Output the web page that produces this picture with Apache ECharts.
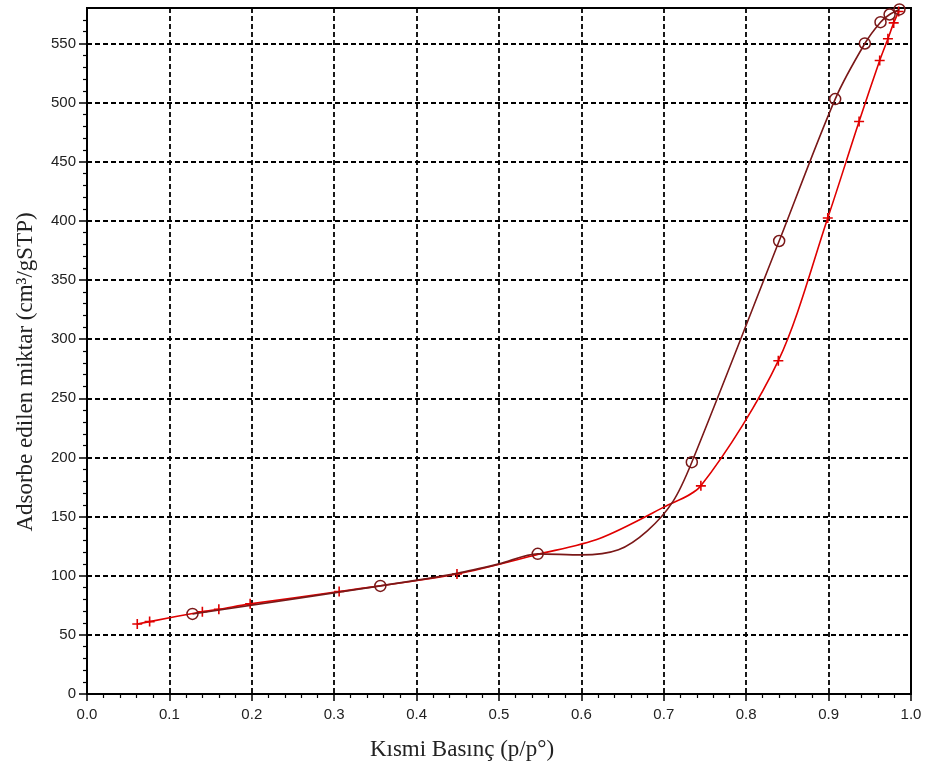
<!DOCTYPE html>
<html>
<head>
<meta charset="utf-8">
<script src="https://cdn.jsdelivr.net/npm/echarts@6/dist/echarts.min.js"></script>
<style>html,body{margin:0;padding:0;background:#fff}#c{width:930px;height:771px}</style>
</head>
<body>
<div id="c"></div>
<script>
// Adsorption branch (red "+" markers)
const adsX = [0.061, 0.076, 0.140, 0.160, 0.198, 0.306, 0.449, 0.745, 0.839, 0.899, 0.937, 0.962, 0.972, 0.979, 0.985];
const adsY = [59.2, 61.2, 69.6, 71.6, 76.2, 86.6, 101.5, 176, 281.8, 402.5, 484, 535.6, 554, 567.4, 577];
// Extra points of the red curve (no marker)
const adsTraceX = [0.547, 0.622, 0.700];
const adsTraceY = [118, 131.5, 158];

// Desorption branch (dark "o" markers)
const desX = [0.128, 0.356, 0.547, 0.734, 0.840, 0.908, 0.944, 0.963, 0.974, 0.986];
const desY = [67.7, 91.4, 118.5, 196, 383, 503, 550, 568, 574.5, 578.8];
// Extra points of the dark curve (no marker)
const desTraceX = [0.449, 0.500, 0.600, 0.645, 0.680, 0.711];
const desTraceY = [102, 110, 117.6, 122, 138, 162.7];

// Axis ticks
const yMajorTicks = [0, 50, 100, 150, 200, 250, 300, 350, 400, 450, 500, 550];
const yMinorTicks = [10,20,30,40,60,70,80,90,110,120,130,140,160,170,180,190,210,220,230,240,260,270,280,290,310,320,330,340,360,370,380,390,410,420,430,440,460,470,480,490,510,520,530,540,560,570];

const xName = 'Kısmi Basınç (p/p°)';
const yName = 'Adsorbe edilen miktar (cm³/gSTP)';

function build(mx, my, tx, ty) {
  const pts = mx.map((x, i) => ({ value: [x, my[i]] }))
    .concat(tx.map((x, i) => ({ value: [x, ty[i]], symbol: 'none' })));
  pts.sort((a, b) => a.value[0] - b.value[0]);
  return pts;
}

const RED = '#e00000';
const DARK = '#7a1818';
const plusPath = 'path://M0,4.2h10v1.6h-10z M4.2,0h1.6v10h-1.6z';
const dashStyle = { type: [5, 3], color: '#000', width: 1.8 };
const labelFont = { fontFamily: '"Liberation Sans", Arial, sans-serif', fontSize: 15, color: '#222' };

const chart = echarts.init(document.getElementById('c'), null, { renderer: 'canvas' });
chart.setOption({
  animation: false,
  backgroundColor: '#fff',
  grid: { left: 87, right: 19, top: 8, bottom: 77, show: true, borderColor: '#000', borderWidth: 2, containLabel: false },
  xAxis: [{
    type: 'value', min: 0, max: 1, interval: 0.1,
    axisLine: { show: true, onZero: false, lineStyle: { color: '#000', width: 2 } },
    axisTick: { show: true, length: 7, lineStyle: { color: '#000', width: 1.5 } },
    minorTick: { show: true, splitNumber: 5, length: 4, lineStyle: { color: '#000', width: 1.2 } },
    axisLabel: Object.assign({ margin: 13, formatter: v => v.toFixed(1) }, labelFont),
    splitLine: { show: true, lineStyle: dashStyle },
    minorSplitLine: { show: false }
  }],
  yAxis: [{
    type: 'value', min: 0, max: 580, interval: 50,
    axisLine: { show: true, onZero: false, lineStyle: { color: '#000', width: 2 } },
    axisTick: { show: true, length: 8, customValues: yMajorTicks, lineStyle: { color: '#000', width: 1.5 } },
    axisLabel: Object.assign({ margin: 11, customValues: yMajorTicks }, labelFont),
    splitLine: { show: true, lineStyle: dashStyle }
  }, {
    type: 'value', min: 0, max: 580, position: 'left', offset: 0,
    axisLine: { show: false },
    axisTick: { show: true, length: 4, customValues: yMinorTicks, lineStyle: { color: '#000', width: 1.2 } },
    axisLabel: { show: false },
    splitLine: { show: false }
  }],
  series: [{
    name: 'Adsorpsiyon', type: 'line', xAxisIndex: 0, yAxisIndex: 0,
    data: build(adsX, adsY, adsTraceX, adsTraceY),
    smooth: 0.3,
    symbol: plusPath, symbolSize: 10, showSymbol: true,
    lineStyle: { color: RED, width: 1.6 },
    itemStyle: { color: RED },
    z: 3
  }, {
    name: 'Desorpsiyon', type: 'line', xAxisIndex: 0, yAxisIndex: 0,
    data: build(desX, desY, desTraceX, desTraceY),
    smooth: 0.3,
    symbol: 'circle', symbolSize: 11, showSymbol: true,
    lineStyle: { color: DARK, width: 1.6 },
    itemStyle: { color: 'rgba(0,0,0,0)', borderColor: DARK, borderWidth: 1.5 },
    z: 4
  }],
  graphic: [{
    type: 'text', x: 26, y: 372, rotation: Math.PI / 2,
    style: { text: yName, fontFamily: '"Liberation Serif", "DejaVu Serif", serif', fontSize: 23, fill: '#222', align: 'center', verticalAlign: 'middle' }
  }, {
    type: 'text', x: 462, y: 750,
    style: { text: xName, fontFamily: '"Liberation Serif", "DejaVu Serif", serif', fontSize: 23, fill: '#222', align: 'center', verticalAlign: 'middle' }
  }]
});
</script>
</body>
</html>
